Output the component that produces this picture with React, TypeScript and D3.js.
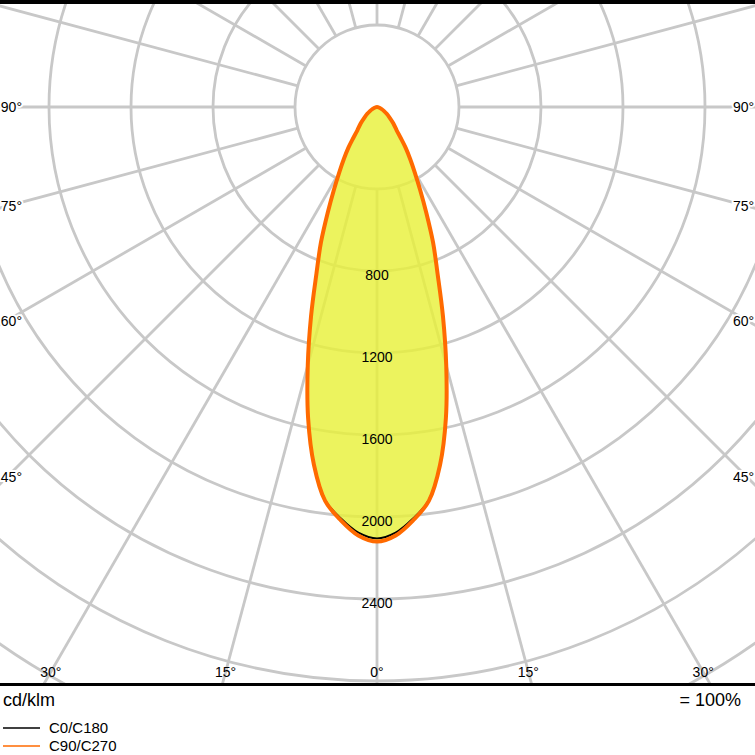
import React from "react";
import * as d3 from "d3";

const W = 755;
const H = 755;

// Luminous intensity (cd/klm) vs gamma angle (deg)
const gammas = [0, 2.5, 5, 7.5, 10, 12.5, 15, 17.5, 20, 22.5, 25, 27.5, 30, 32.5, 35, 37.5, 40, 45, 50, 55, 60, 65, 70, 75, 80, 85, 90];
const c0c180 = [2104, 2078, 2015, 1934, 1769, 1551, 1303, 1068, 861, 712, 567, 453, 366, 299, 244, 188, 149, 111, 80, 58, 40, 26, 16, 9, 4, 1, 0];
const c90c270 = [2120, 2092, 2024, 1938, 1772, 1553, 1305, 1070, 863, 714, 569, 455, 368, 301, 245, 189, 150, 112, 80, 58, 40, 26, 16, 9, 4, 1, 0];

const ringValues = [400, 800, 1200, 1600, 2000, 2400, 2800, 3200, 3600, 4000, 4400];
const ringLabels = [800, 1200, 1600, 2000, 2400];
const sideAngles = [90, 75, 60, 45];
const bottomAngles = [-30, -15, 0, 15, 30];
const legendItems = [
  { name: "C0/C180", color: "#000000" },
  { name: "C90/C270", color: "#ff6a00" },
];
const unitLabel = "cd/klm";
const percentLabel = "= 100%";

const cx = 377;
const cy = 107;
const plotTop = 4;
const plotBottom = 683;

const r = d3.scaleLinear().domain([0, 400]).range([0, 82]);
const rad = (deg: number) => (deg * Math.PI) / 180;

function halfPath(vals: number[], side: 1 | -1) {
  const pts: [number, number][] = gammas.map((g, i) => [Math.PI - side * rad(g), r(vals[i])]);
  const gen = d3.lineRadial<[number, number]>()
    .angle((d) => d[0])
    .radius((d) => d[1])
    .curve(d3.curveCatmullRom.alpha(0.5));
  return gen(pts) || "";
}

function fullPath(vals: number[]) {
  const pts: [number, number][] = [];
  for (let i = gammas.length - 1; i >= 0; i--) pts.push([Math.PI + rad(gammas[i]), r(vals[i])]);
  for (let i = 1; i < gammas.length; i++) pts.push([Math.PI - rad(gammas[i]), r(vals[i])]);
  const gen = d3.lineRadial<[number, number]>()
    .angle((d) => d[0])
    .radius((d) => d[1])
    .curve(d3.curveCatmullRom.alpha(0.5));
  return gen(pts) || "";
}

export default function App() {
  const font = "'Liberation Sans', Arial, Helvetica, sans-serif";
  const gridColor = "#c8c8c8";
  const radialAngles = d3.range(0, 360, 15);
  const rMax = r(ringValues[ringValues.length - 1]);

  return (
    <svg width={W} height={H} style={{ position: "absolute", left: 0, top: 0, background: "#fff" }} fontFamily={font}>
      <defs>
        <clipPath id="plotClip">
          <rect x={0} y={plotTop} width={W} height={plotBottom - plotTop} />
        </clipPath>
      </defs>
      <rect x={0} y={0} width={W} height={H} fill="#fff" />
      <g clipPath="url(#plotClip)">
        <g transform={`translate(${cx},${cy})`}>
          {ringValues.map((v) => (
            <circle key={v} r={r(v)} fill="none" stroke={gridColor} strokeWidth={2.8} />
          ))}
          {radialAngles.map((a) => (
            <line
              key={a}
              x1={r(400) * Math.sin(rad(a))}
              y1={r(400) * Math.cos(rad(a))}
              x2={rMax * Math.sin(rad(a))}
              y2={rMax * Math.cos(rad(a))}
              stroke={gridColor}
              strokeWidth={2.8}
            />
          ))}
          <path d={halfPath(c90c270, 1) + "L0,0Z"} fill="#e8f03a" fillOpacity={0.82} />
          <path d={halfPath(c90c270, -1) + "L0,0Z"} fill="#e8f03a" fillOpacity={0.82} />
          <path d={fullPath(c0c180)} fill="none" stroke="#000" strokeWidth={1.8} />
          <path d={fullPath(c90c270)} fill="none" stroke="#ff6a00" strokeWidth={4} strokeLinejoin="round" />
          {ringLabels.map((v) => (
            <text key={v} x={0} y={r(v) + 9} textAnchor="middle" fontSize={14} fill="#000">
              {v}
            </text>
          ))}
        </g>
        {sideAngles.map((g) => {
          const t = (cx - 7) / Math.sin(rad(g));
          const y = cy + t * Math.cos(rad(g));
          return (
            <g key={g}>
              <text x={22} y={y + 5} textAnchor="end" fontSize={14} fill="#000" stroke="#fff" strokeWidth={4} paintOrder="stroke">{`${g}°`}</text>
              <text x={733} y={y + 5} textAnchor="start" fontSize={14} fill="#000" stroke="#fff" strokeWidth={4} paintOrder="stroke">{`${g}°`}</text>
            </g>
          );
        })}
        {bottomAngles.map((g) => {
          const yLab = 672;
          const t = (yLab - cy) / Math.cos(rad(g));
          const x = cx + t * Math.sin(rad(g));
          return (
            <text key={g} x={x} y={yLab + 5} textAnchor="middle" fontSize={14} fill="#000">
              {`${Math.abs(g)}°`}
            </text>
          );
        })}
      </g>
      <rect x={0} y={0} width={W} height={plotTop} fill="#000" />
      <rect x={0} y={plotBottom} width={W} height={3} fill="#000" />
      <text x={3} y={706} fontSize={18} fill="#000">{unitLabel}</text>
      <text x={741} y={706} fontSize={18} textAnchor="end" fill="#000">{percentLabel}</text>
      {legendItems.map((it, i) => {
        const y = 728 + i * 18;
        return (
          <g key={it.name}>
            <line x1={3} x2={40} y1={y} y2={y} stroke={it.color} strokeWidth={1.5} />
            <text x={49} y={y + 5.4} fontSize={15} fill="#000">{it.name}</text>
          </g>
        );
      })}
    </svg>
  );
}
